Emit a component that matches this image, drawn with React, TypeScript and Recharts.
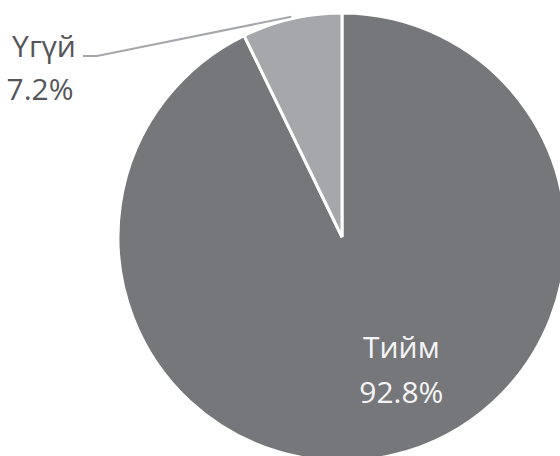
import { Cell, Pie, PieChart } from "recharts";

// Survey answer split: yes / no.
const ANSWERS = ["Тийм", "Үгүй"];
const SHARES = [92.8, 7.2];

const SLICE_COLORS = ["#76777b", "#a6a7aa"];
const TEXT_DARK = "#55565a";
const FONT = "'Open Sans', 'Noto Sans', sans-serif";

const data = ANSWERS.map((name, i) => ({ name, value: SHARES[i] }));

const RAD = Math.PI / 180;

function SliceLabel(props: any) {
  const { cx, cy, midAngle, outerRadius, index, name, value } = props;
  const pct = `${value.toFixed(1)}%`;

  if (index === 0) {
    // big slice: label sits inside, lower right of centre
    const x = cx + outerRadius * 0.265;
    const y = cy + outerRadius * 0.54;
    return (
      <text
        x={x}
        y={y}
        fill="#f4f4f4"
        textAnchor="middle"
        fontFamily={FONT}
        fontSize={30}
      >
        <tspan x={x} dy={0}>
          {name}
        </tspan>
        <tspan x={x} dy={45}>
          {pct}
        </tspan>
      </text>
    );
  }

  // small slice: leader line out to the top-left corner
  const sx = cx + (outerRadius + 2) * Math.cos(-midAngle * RAD);
  const sy = cy + (outerRadius + 2) * Math.sin(-midAngle * RAD);
  const kx = 97;
  const ky = 56;
  return (
    <g>
      <polyline
        points={`${sx},${sy} ${kx},${ky} ${kx - 14},${ky}`}
        fill="none"
        stroke="#a6a7aa"
        strokeWidth={2}
      />
      <text
        x={44}
        y={57}
        fill={TEXT_DARK}
        textAnchor="middle"
        fontFamily={FONT}
        fontSize={30}
      >
        <tspan x={44} dy={0}>
          {name}
        </tspan>
        <tspan x={40} dy={43}>
          {pct}
        </tspan>
      </text>
    </g>
  );
}

export default function App() {
  return (
    <div
      style={{
        position: "absolute",
        left: 0,
        top: 0,
        width: 560,
        height: 456,
        background: "#ffffff",
        overflow: "hidden",
      }}
    >
      <PieChart
        width={560}
        height={456}
        margin={{ top: 0, right: 0, bottom: 0, left: 0 }}
      >
        <Pie
          data={data}
          dataKey="value"
          nameKey="name"
          cx={342}
          cy={237}
          outerRadius={224}
          startAngle={90}
          endAngle={-270}
          stroke="#ffffff"
          strokeWidth={3}
          label={SliceLabel}
          labelLine={false}
          isAnimationActive={false}
        >
          {data.map((_, i) => (
            <Cell key={i} fill={SLICE_COLORS[i]} />
          ))}
        </Pie>
      </PieChart>
    </div>
  );
}
